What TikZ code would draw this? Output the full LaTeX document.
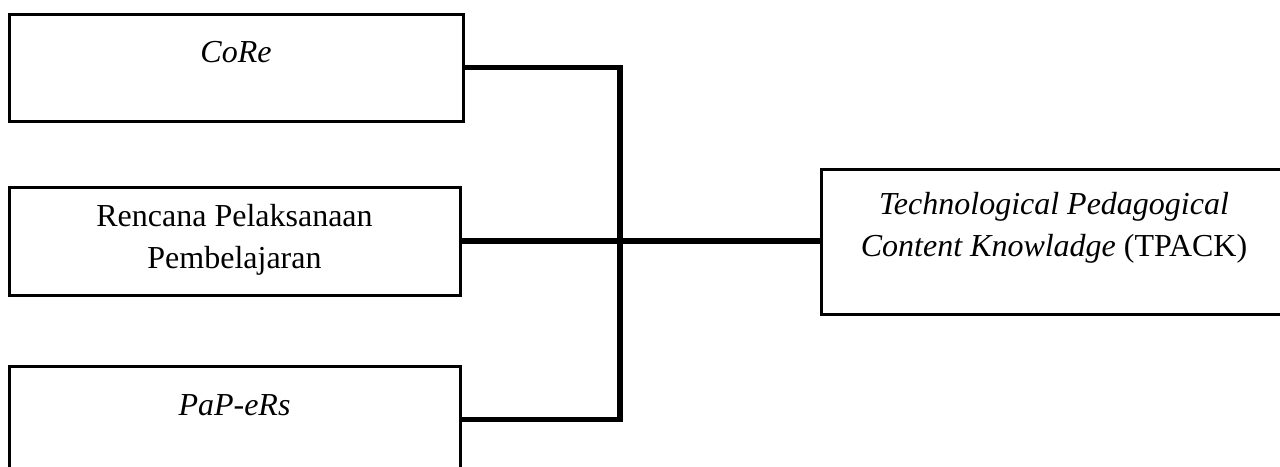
\documentclass[tikz,border=0pt]{standalone}
\usepackage{fontspec}
\setmainfont{Liberation Serif}
\usetikzlibrary{calc}

\begin{document}
\begin{tikzpicture}[x=0.5pt,y=-0.5pt,
  box/.style={draw=black,line width=1.5pt,inner sep=0pt},
  lbl/.style={font=\fontsize{16}{21}\selectfont,align=center,inner sep=0pt},
  conn/.style={draw=black,line width=2.6pt}]
\useasboundingbox (0,0) rectangle (1280,466);
% boxes
\node[box,minimum width=227pt,minimum height=53.5pt] (core) at (236,67.5) {};
\node[box,minimum width=225.5pt,minimum height=54pt] (rpp) at (234.5,241) {};
\node[box,minimum width=225.5pt,minimum height=53.5pt] (pap) at (234.5,419.5) {};
\node[box,minimum width=232pt,minimum height=72.5pt] (tpack) at (1053,241.5) {};
% texts
\node[lbl,anchor=base] (coreT) at (236,62) {\textit{CoRe}};
\node[lbl] (rppT) at (234.5,240) {Rencana Pelaksanaan\\Pembelajaran};
\node[lbl,anchor=base] (papT) at (234.5,415) {\textit{PaP-eRs}};
\node[lbl] (tpackT) at (1054,227.5)
  {\textit{Technological Pedagogical}\\\textit{Content Knowladge} (TPACK)};
% connectors
\coordinate (bus) at (620,0);
\draw[conn] (core.east) -- (core.east -| bus) -- (pap.east -| bus) -- (pap.east);
\draw[conn] (rpp.east) -- (rpp.east -| tpack.west);
\end{tikzpicture}
\end{document}
